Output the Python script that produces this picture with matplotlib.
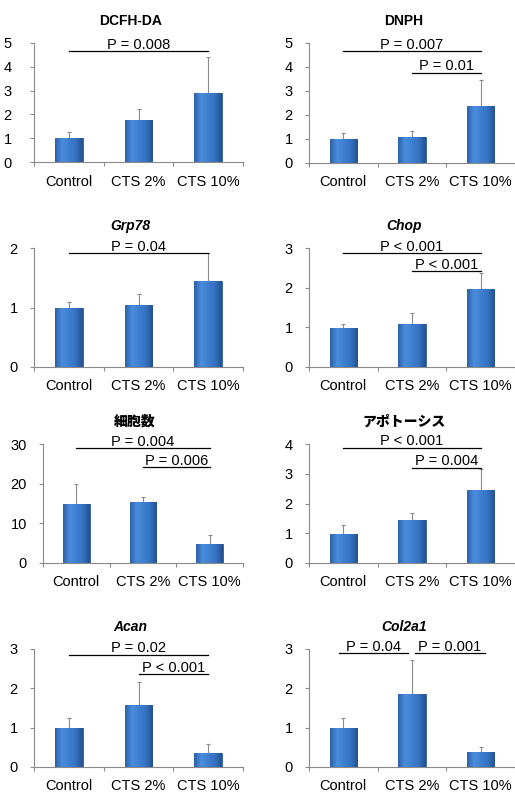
import numpy as np
import matplotlib
matplotlib.use("Agg")
import matplotlib.pyplot as plt
from matplotlib.colors import LinearSegmentedColormap

plt.rcParams['font.family'] = ['Liberation Sans', 'Noto Sans CJK JP', 'DejaVu Sans']
plt.rcParams['font.size'] = 10

categories = ['Control', 'CTS 2%', 'CTS 10%']
titles = ['DCFH-DA', 'DNPH', 'Grp78', 'Chop', '細胞数', 'アポトーシス', 'Acan', 'Col2a1']
italic = [False, False, True, True, False, False, True, True]

means = [
    [1.00, 1.75, 2.90],
    [0.99, 1.10, 2.36],
    [1.00, 1.04, 1.45],
    [0.99, 1.08, 1.96],
    [15.0, 15.4, 4.7],
    [0.98, 1.44, 2.46],
    [1.00, 1.58, 0.35],
    [0.99, 1.85, 0.37],
]
errors = [
    [0.25, 0.47, 1.52],
    [0.28, 0.24, 1.08],
    [0.09, 0.18, 0.47],
    [0.09, 0.27, 0.42],
    [4.9, 1.2, 2.4],
    [0.29, 0.23, 0.69],
    [0.25, 0.58, 0.23],
    [0.26, 0.86, 0.15],
]
ymax = [5, 5, 2, 3, 30, 4, 3, 3]
ystep = [1, 1, 1, 1, 10, 1, 1, 1]

# significance bars: (from, to, height, text)
sig = [
    [(0, 2, 4.65, 'P = 0.008')],
    [(0, 2, 4.65, 'P = 0.007'), (1, 2, 3.77, 'P = 0.01')],
    [(0, 2, 1.92, 'P = 0.04')],
    [(0, 2, 2.87, 'P < 0.001'), (1, 2, 2.43, 'P < 0.001')],
    [(0, 2, 29.0, 'P = 0.004'), (1, 2, 24.2, 'P = 0.006')],
    [(0, 2, 3.88, 'P < 0.001'), (1, 2, 3.21, 'P = 0.004')],
    [(0, 2, 2.86, 'P = 0.02'), (1, 2, 2.37, 'P < 0.001')],
    [(-0.07, 0.94, 2.89, 'P = 0.04'), (1.05, 2.06, 2.89, 'P = 0.001')],
]

# plot boxes in pixels: left, top, right, bottom
W, H = 515, 793
boxes = [
    (34, 43, 243, 162), (309, 43, 515, 163),
    (34, 248, 243, 367), (309, 248, 515, 367),
    (43, 444, 243, 563), (309, 444, 515, 563),
    (34, 649, 243, 767), (309, 649, 515, 767),
]
ypad = [18, 12, 12, 12, 12, 12, 12, 12]

grad = LinearSegmentedColormap.from_list(
    'bar', ['#2d62aa', '#4a8ddc', '#3f7fd0', '#3572c2', '#24528f'])
axis_col = '#8a8a8a'

fig = plt.figure(figsize=(W / 100, H / 100), dpi=100)
x = np.arange(len(categories))

for i in range(8):
    l, t, r, b = boxes[i]
    ax = fig.add_axes([l / W, 1 - b / H, (r - l) / W, (b - t) / H])
    bars = ax.bar(x, means[i], width=0.4, color='#3b7ace', edgecolor='#2a5a9a',
                  linewidth=0.6, zorder=2)
    for p in bars:
        bx, by = p.get_x(), p.get_y()
        im = ax.imshow(np.linspace(0, 1, 50).reshape(1, -1), cmap=grad,
                       extent=[bx, bx + p.get_width(), by, by + p.get_height()],
                       aspect='auto', zorder=2.5)
        im.set_clip_path(p)
    ax.errorbar(x, means[i], yerr=[np.zeros(3), errors[i]], fmt='none',
                ecolor='#8c8c8c', elinewidth=0.8, capsize=1.5, capthick=0.8, zorder=1)
    ax.set_xlim(-0.5, 2.5)
    ax.set_ylim(0, ymax[i])
    ax.set_yticks(np.arange(0, ymax[i] + ystep[i] / 2, ystep[i]))
    ax.set_xticks([-0.5, 0.5, 1.5, 2.5])
    ax.set_xticklabels([])
    ax.set_xticks(x, minor=True)
    ax.set_xticklabels(categories, minor=True, fontsize=10.5)
    ax.tick_params(axis='x', which='minor', length=0, pad=9)
    ax.tick_params(axis='x', which='major', length=3, color=axis_col, width=0.8)
    ax.tick_params(axis='y', length=3, color=axis_col, width=0.8, pad=ypad[i] * 0.72,
                   labelsize=10.5)
    for s in ['top', 'right']:
        ax.spines[s].set_visible(False)
    for s in ['left', 'bottom']:
        ax.spines[s].set_color(axis_col)
        ax.spines[s].set_linewidth(0.8)
    for x0, x1, yy, txt in sig[i]:
        ax.plot([x0, x1], [yy, yy], color='black', lw=0.9, zorder=3, clip_on=False)
        ax.annotate(txt, xy=((x0 + x1) / 2, yy), xytext=(0, 1.5),
                    textcoords='offset points', ha='center', va='baseline',
                    fontsize=10.5, zorder=3)
    ax.annotate(titles[i], xy=(0.46, 1), xycoords='axes fraction',
                xytext=(0, 16), textcoords='offset points', ha='center', va='center',
                fontsize=10, fontweight='heavy',
                fontstyle='italic' if italic[i] else 'normal')

fig.savefig('out.png', dpi=100)
